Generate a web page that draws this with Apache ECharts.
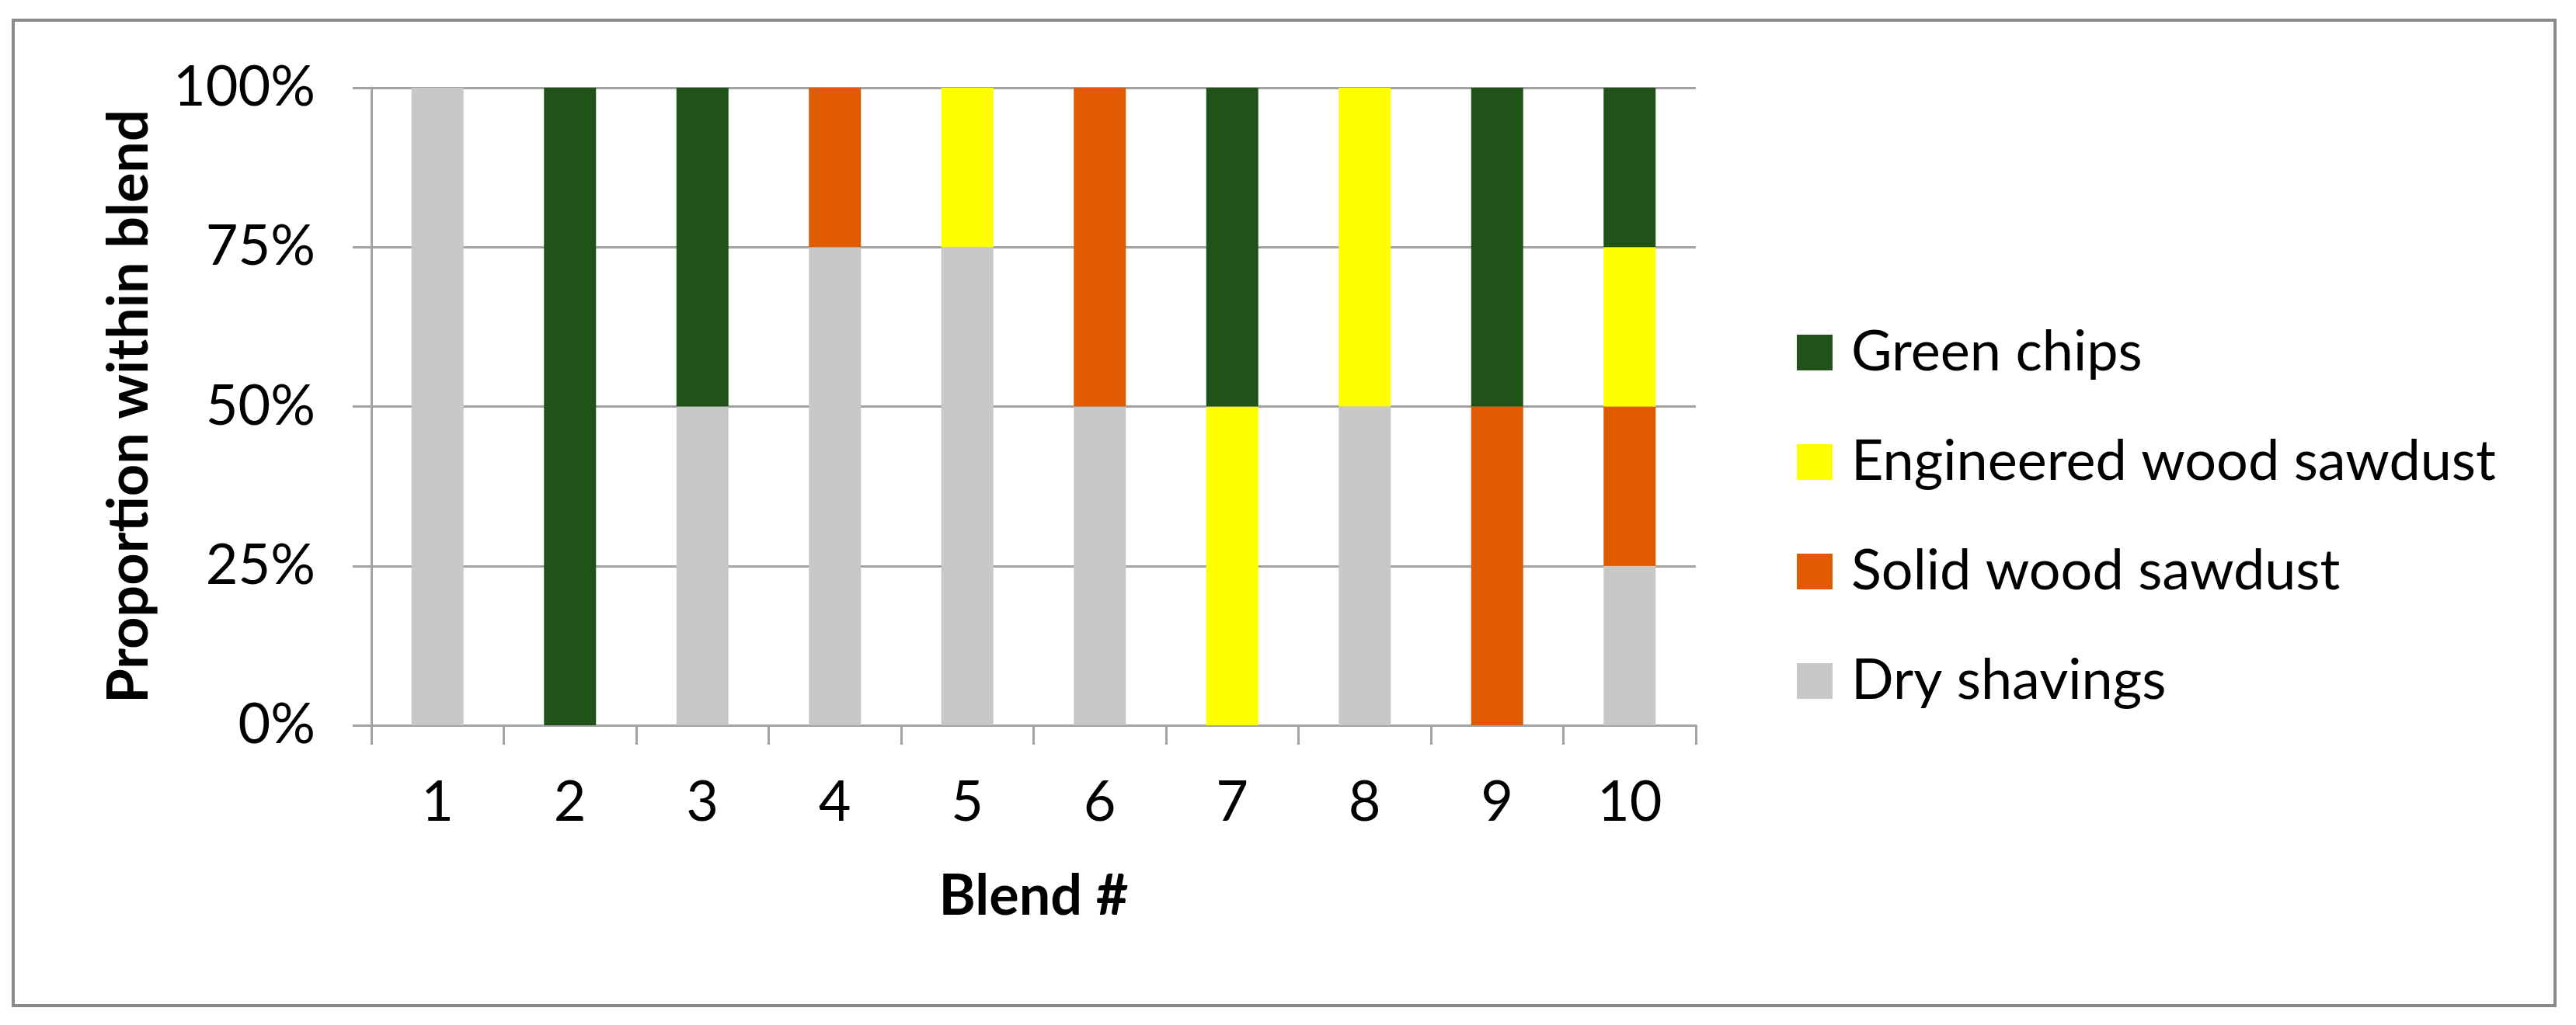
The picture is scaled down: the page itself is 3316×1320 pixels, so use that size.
<!DOCTYPE html>
<html>
<head>
<meta charset="utf-8">
<script src="https://cdn.jsdelivr.net/npm/echarts@6/dist/echarts.min.js"></script>
<style>
  html, body { margin: 0; padding: 0; background: #ffffff; }
  #chart { width: 3316px; height: 1320px; }
</style>
</head>
<body>
<div id="chart"></div>
<script>
const blends = ['1', '2', '3', '4', '5', '6', '7', '8', '9', '10'];
const dryShavings = [100, 0, 50, 75, 75, 50, 0, 50, 0, 25];
const solidWoodSawdust = [0, 0, 0, 25, 0, 50, 0, 0, 50, 25];
const engineeredWoodSawdust = [0, 0, 0, 0, 25, 0, 50, 50, 0, 25];
const greenChips = [0, 100, 50, 0, 0, 0, 50, 0, 50, 25];
const yTicks = [0, 25, 50, 75, 100];

const FONT = 'Lato, "Open Sans", sans-serif';
const GRID_COLOR = '#a3a3a3';

const chart = echarts.init(document.getElementById('chart'), null, { renderer: 'canvas' });

function barSeries(name, data, color) {
  return {
    name: name,
    type: 'bar',
    stack: 'blend',
    data: data,
    barWidth: 67,
    itemStyle: { color: color },
    emphasis: { disabled: true }
  };
}

chart.setOption({
  backgroundColor: '#ffffff',
  animation: false,
  graphic: [{
    type: 'rect',
    shape: { x: 17, y: 26, width: 3272, height: 1269 },
    style: { fill: 'none', stroke: '#8a8a8a', lineWidth: 4 },
    z: -1
  }],
  grid: { left: 478, right: 1133, top: 113, bottom: 386, containLabel: false },
  legend: {
    orient: 'vertical',
    left: 2308,
    top: 413,
    itemWidth: 46,
    itemHeight: 46,
    itemGap: 69,
    icon: 'rect',
    data: ['Green chips', 'Engineered wood sawdust', 'Solid wood sawdust', 'Dry shavings'],
    textStyle: { fontFamily: FONT, fontSize: 72, color: '#000000', lineHeight: 46, padding: [0, 0, 0, 19] }
  },
  xAxis: {
    type: 'category',
    data: blends,
    boundaryGap: true,
    name: 'Blend #',
    nameLocation: 'middle',
    nameGap: 185,
    nameTextStyle: { fontFamily: FONT, fontSize: 72, fontWeight: 'bold', color: '#000000' },
    axisLine: { show: true, lineStyle: { color: GRID_COLOR, width: 3 } },
    axisTick: { show: true, alignWithLabel: false, length: 25, lineStyle: { color: GRID_COLOR, width: 3 } },
    axisLabel: { fontFamily: FONT, fontSize: 72, color: '#000000', margin: 64 },
    splitLine: { show: false }
  },
  yAxis: {
    type: 'value',
    min: 0,
    max: 100,
    interval: 25,
    name: 'Proportion within blend',
    nameLocation: 'middle',
    nameRotate: 90,
    nameGap: 275,
    nameTextStyle: { fontFamily: FONT, fontSize: 72, fontWeight: 'bold', color: '#000000' },
    axisLine: { show: true, lineStyle: { color: GRID_COLOR, width: 3 } },
    axisTick: { show: true, inside: false, length: 24, lineStyle: { color: GRID_COLOR, width: 3 } },
    axisLabel: {
      fontFamily: FONT, fontSize: 72, color: '#000000', margin: 72,
      formatter: function (v) { return yTicks.indexOf(v) >= 0 ? v + '%' : ''; }
    },
    splitLine: { show: true, lineStyle: { color: GRID_COLOR, width: 3 } }
  },
  series: [
    barSeries('Dry shavings', dryShavings, '#c8c8c8'),
    barSeries('Solid wood sawdust', solidWoodSawdust, '#e05a00'),
    barSeries('Engineered wood sawdust', engineeredWoodSawdust, '#ffff00'),
    barSeries('Green chips', greenChips, '#1f5318')
  ]
});
</script>
</body>
</html>
